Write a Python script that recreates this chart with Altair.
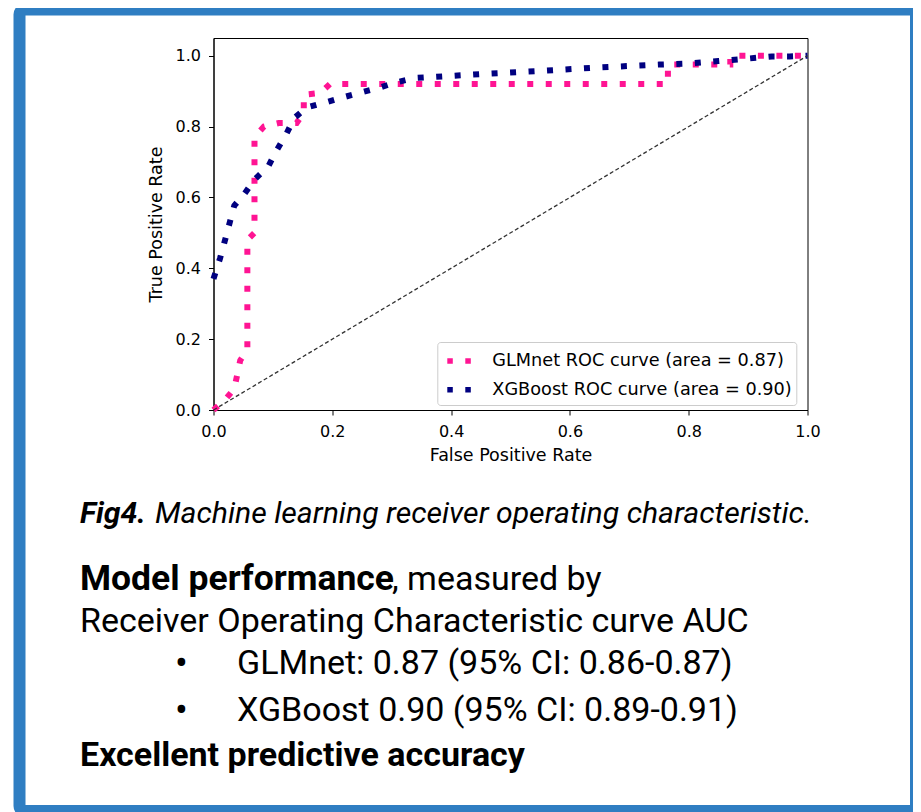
import altair as alt
import pandas as pd

# ---------------- data ----------------
series_labels = ["GLMnet ROC curve (area = 0.87)", "XGBoost ROC curve (area = 0.90)"]
series_colors = ["#FF1493", "#000080"]

glm_fpr = [0.0, 0.02, 0.035, 0.04, 0.045, 0.057, 0.057, 0.069, 0.069, 0.085, 0.11, 0.14,
           0.152, 0.152, 0.18, 0.196, 0.765, 0.765, 0.87, 0.87, 1.0]
glm_tpr = [0.0, 0.03, 0.06, 0.10, 0.14, 0.17, 0.48, 0.50, 0.77, 0.80, 0.81, 0.81,
           0.84, 0.89, 0.895, 0.92, 0.92, 0.975, 0.975, 1.0, 1.0]

xgb_fpr = [0.0, 0.011, 0.019, 0.027, 0.035, 0.052, 0.07, 0.092, 0.106, 0.122, 0.136, 0.157,
           0.188, 0.217, 0.248, 0.279, 0.308, 0.339, 0.37, 0.45, 0.55, 0.65, 0.75, 0.8,
           0.85, 0.9, 0.94, 0.97, 1.0]
xgb_tpr = [0.37, 0.428, 0.477, 0.527, 0.577, 0.61, 0.652, 0.687, 0.732, 0.777, 0.824, 0.854,
           0.868, 0.882, 0.896, 0.91, 0.925, 0.937, 0.94, 0.948, 0.957, 0.967, 0.975, 0.978,
           0.985, 0.992, 0.998, 0.998, 1.0]

diag_fpr = [0.0, 1.0]
diag_tpr = [0.0, 1.0]

tick_values = [0.0, 0.2, 0.4, 0.6, 0.8, 1.0]

caption_bold = "Fig4."
caption_rest = "Machine learning receiver operating characteristic."
perf_bold = "Model performance"
perf_rest = ", measured by"
perf_line2 = "Receiver Operating Characteristic curve AUC"
bullet = "\u2022"
bullet_items = ["GLMnet: 0.87 (95% CI: 0.86-0.87)", "XGBoost 0.90 (95% CI: 0.89-0.91)"]
conclusion = "Excellent predictive accuracy"

# ---------------- tables ----------------
rows = []
for i, (fx, ty) in enumerate(zip(glm_fpr, glm_tpr)):
    rows.append({"series": series_labels[0], "fpr": fx, "tpr": ty, "i": i})
for i, (fx, ty) in enumerate(zip(xgb_fpr, xgb_tpr)):
    rows.append({"series": series_labels[1], "fpr": fx, "tpr": ty, "i": i})
roc_df = pd.DataFrame(rows)
diag_df = pd.DataFrame({"fpr": diag_fpr, "tpr": diag_tpr})

# plot area origin on the page (px)
X0 = 213.5
Y0 = 38.0
TXT_FONT = "Roboto"
AX_FONT = "DejaVu Sans"

roc = alt.Chart(roc_df).mark_line(
    strokeWidth=6, strokeDash=[6, 12.5], strokeCap="butt"
).encode(
    x=alt.X("fpr:Q", scale=alt.Scale(domain=[0, 1], nice=False, zero=False),
            axis=alt.Axis(values=tick_values, format=".1f", title="False Positive Rate",
                          labelFlush=False, titlePadding=7)),
    y=alt.Y("tpr:Q", scale=alt.Scale(domain=[0, 1.05], nice=False, zero=False),
            axis=alt.Axis(values=tick_values, format=".1f", title="True Positive Rate",
                          labelFlush=False, titlePadding=10)),
    color=alt.Color("series:N",
                    scale=alt.Scale(domain=series_labels, range=series_colors),
                    legend=alt.Legend(
                        title=None, orient="none", legendX=223.8, legendY=304,
                        direction="vertical",
                        fillColor="rgba(255,255,255,0.8)", strokeColor="#cccccc",
                        cornerRadius=3, padding=4, rowPadding=2.7, symbolOffset=3,
                        symbolType="stroke", symbolSize=576, symbolStrokeWidth=5.5,
                        symbolDash=[5.5, 12.5],
                        labelFont=AX_FONT, labelFontSize=17.7, labelColor="#000000",
                        labelOffset=18, labelLimit=500)),
    order="i:Q",
)

diag = alt.Chart(diag_df).mark_line(
    color="#333333", strokeWidth=1.3, strokeDash=[4, 2.5]
).encode(x="fpr:Q", y="tpr:Q")

border = alt.Chart(pd.DataFrame({"k": [0]})).mark_rect(
    fillOpacity=0, stroke="#2F7EC2", strokeWidth=12, cornerRadius=5
).encode(
    x=alt.value(19.5 - X0), x2=alt.value(916 - X0),
    y=alt.value(9.5 - Y0), y2=alt.value(811 - Y0),
)


def txt(s, xp, yp, size, weight="normal", style="normal"):
    return alt.Chart(pd.DataFrame({"t": [s]})).mark_text(
        align="left", baseline="alphabetic", font=TXT_FONT, fontSize=size,
        fontWeight=weight, fontStyle=style, color="#000000"
    ).encode(x=alt.value(xp - X0), y=alt.value(yp - Y0), text="t:N")


texts = [
    txt(caption_bold, 80, 523, 30.2, "bold", "italic"),
    txt(caption_rest, 155, 523, 30.2, "normal", "italic"),
    txt(perf_bold, 80, 590, 35.5, "bold"),
    txt(perf_rest, 392, 590, 34),
    txt(perf_line2, 80, 632, 34),
    txt(bullet, 175, 676, 38),
    txt(bullet_items[0], 237, 674, 34),
    txt(bullet, 175, 723, 38),
    txt(bullet_items[1], 237, 721, 34),
    txt(conclusion, 80, 766, 34, "bold"),
]

chart = alt.layer(border, roc, diag, *texts).properties(
    width=594, height=372,
    autosize=alt.AutoSizeParams(type="none"),
    padding={"left": 205.5, "top": 30, "right": 105.5, "bottom": 402},
    background="white",
).configure_view(
    stroke="#000000", strokeWidth=1
).configure_axis(
    grid=False, domainColor="#000000", domainWidth=1, tickColor="#000000",
    tickSize=5, tickWidth=1, labelFont=AX_FONT, labelFontSize=16,
    labelColor="#000000", labelPadding=8, titleFont=AX_FONT, titleFontSize=17.5,
    titleFontWeight="normal", titleColor="#000000",
)

chart.save("out.html", embed_options={"renderer": "svg", "actions": False})
